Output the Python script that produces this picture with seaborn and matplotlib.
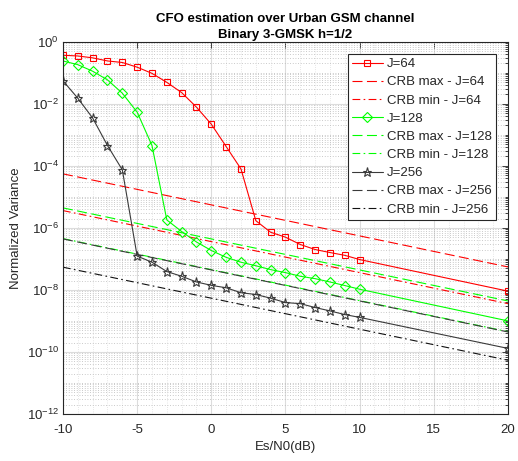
import numpy as np
import pandas as pd
import matplotlib
matplotlib.use("Agg")
import matplotlib.pyplot as plt
import matplotlib.ticker as mticker
import seaborn as sns

# Es/N0 grid (dB) of the simulated points
snr = [-10, -9, -8, -7, -6, -5, -4, -3, -2, -1, 0, 1, 2, 3, 4, 5, 6, 7, 8, 9, 10, 20]

# Simulated normalized CFO variance
var_j64 = [0.366, 0.347, 0.302, 0.240, 0.214, 0.151, 0.0955, 0.0490, 0.0229, 0.00776,
           0.00219, 4.17e-4, 7.9e-5, 1.7e-6, 7.2e-7, 5.0e-7, 2.9e-7, 2.0e-7, 1.6e-7,
           1.3e-7, 9.5e-8, 9.1e-9]
var_j128 = [0.240, 0.182, 0.112, 0.0589, 0.0219, 0.00537, 4.5e-4, 1.8e-6, 7.6e-7,
            3.5e-7, 1.86e-7, 1.12e-7, 7.8e-8, 6.0e-8, 4.5e-8, 3.6e-8, 2.75e-8, 2.3e-8,
            1.8e-8, 1.38e-8, 1.05e-8, 1.0e-9]
var_j256 = [0.055, 0.0151, 0.00347, 4.5e-4, 7.4e-5, 1.23e-7, 7.8e-8, 3.9e-8, 2.75e-8,
            1.8e-8, 1.4e-8, 1.17e-8, 8.1e-9, 7.1e-9, 5.4e-9, 3.9e-9, 3.6e-9, 2.7e-9,
            2.1e-9, 1.6e-9, 1.3e-9, 1.3e-10]

# Cramer-Rao bounds (straight lines on the log scale, end points)
snr_crb = [-10, 20]
crb_max_j64 = [5.5e-5, 5.5e-8]
crb_min_j64 = [3.6e-6, 3.6e-9]
crb_max_j128 = [4.4e-6, 4.4e-9]
crb_min_j128 = [4.5e-7, 4.5e-10]
crb_max_j256 = [4.4e-7, 4.4e-10]
crb_min_j256 = [5.4e-8, 5.4e-11]

y_ticks = [1e0, 1e-2, 1e-4, 1e-6, 1e-8, 1e-10, 1e-12]
x_ticks = [-10, -5, 0, 5, 10, 15, 20]

sns.set_style("white")
plt.rcParams["font.family"] = ["Liberation Sans", "DejaVu Sans"]
plt.rcParams["mathtext.fontset"] = "custom"
plt.rcParams["mathtext.rm"] = "Liberation Sans"
plt.rcParams["mathtext.it"] = "Liberation Sans:italic"
plt.rcParams["mathtext.bf"] = "Liberation Sans:bold"
plt.rcParams["axes.unicode_minus"] = False

TXT = "#262626"
RED = "#ff0000"
GREEN = "#00ff00"
BLACK = "#3a3a3a"
DASH = (0, (9, 4))
DASHDOT = (0, (7, 3, 1.5, 3))
FS = 9.5

fig = plt.figure(figsize=(5.18, 4.61), dpi=100)
ax = fig.add_axes([0.1216, 0.102, 0.8591, 0.8075])

common = dict(ax=ax, errorbar=None, linewidth=0.8, legend=False)

def curve(x, y, label, color, ls="-", marker=None, ms=4.5):
    df = pd.DataFrame({"x": x, "y": y})
    kws = dict(common)
    if marker is not None:
        kws.update(marker=marker, markersize=ms, markerfacecolor="none",
                   markeredgecolor=color, markeredgewidth=0.8)
    sns.lineplot(data=df, x="x", y="y", color=color, linestyle=ls, label=label, **kws)

curve(snr, var_j64, "J=64", RED, marker="s", ms=4.6)
curve(snr_crb, crb_max_j64, "CRB max - J=64", RED, ls=DASH)
curve(snr_crb, crb_min_j64, "CRB min - J=64", RED, ls=DASHDOT)
curve(snr, var_j128, "J=128", GREEN, marker="D", ms=4.6)
curve(snr_crb, crb_max_j128, "CRB max - J=128", GREEN, ls=DASH)
curve(snr_crb, crb_min_j128, "CRB min - J=128", GREEN, ls=DASHDOT)
curve(snr, var_j256, "J=256", BLACK, marker="*", ms=6.5)
curve(snr_crb, crb_max_j256, "CRB max - J=256", BLACK, ls=DASH)
curve(snr_crb, crb_min_j256, "CRB min - J=256", "#111111", ls=DASHDOT)

ax.set_yscale("log")
ax.set_xlim(-10, 20)
ax.set_ylim(1e-12, 1e0)
ax.set_xticks(x_ticks)
ax.set_yticks(y_ticks)
ax.yaxis.set_major_formatter(mticker.LogFormatterSciNotation())
ax.yaxis.set_minor_locator(mticker.LogLocator(base=10, subs=np.arange(1, 10), numticks=200))
ax.yaxis.set_minor_formatter(mticker.NullFormatter())
ax.xaxis.set_minor_locator(mticker.MultipleLocator(1))

ax.grid(True, which="major", color="#dcdcdc", linewidth=0.8, linestyle="-")
ax.grid(True, which="minor", axis="y", color="#b8b8b8", linewidth=0.6, linestyle=(0, (1, 2.2)))
ax.grid(True, which="minor", axis="x", color="#d0d0d0", linewidth=0.5, linestyle=(0, (1, 2.2)))
ax.set_axisbelow(True)

for s in ax.spines.values():
    s.set_color(TXT)
    s.set_linewidth(0.8)
ax.tick_params(axis="both", which="both", direction="in", top=True, right=True,
               colors=TXT, labelcolor=TXT, labelsize=FS, width=0.6)
ax.tick_params(axis="both", which="major", length=4)
ax.tick_params(axis="x", which="major", pad=7)
ax.tick_params(axis="y", which="major", pad=3)
ax.tick_params(axis="both", which="minor", length=2)
ax.tick_params(axis="x", which="minor", length=0)

ax.set_xlabel("Es/N0(dB)", fontsize=FS, color=TXT, labelpad=4)
ax.set_ylabel("Normalized Variance", fontsize=FS, color=TXT, labelpad=3)
ax.set_title("CFO estimation over Urban GSM channel\nBinary 3-GMSK h=1/2",
             fontsize=9.5, fontweight="bold", color="black", linespacing=1.45, pad=3)

leg = ax.legend(loc="upper right", bbox_to_anchor=(0.973, 0.967), borderaxespad=0,
                fontsize=FS, frameon=True, fancybox=False, edgecolor=TXT,
                handlelength=2.35, handletextpad=0.33, labelspacing=0.45,
                borderpad=0.3, framealpha=1)
leg.get_frame().set_linewidth(0.8)
for t in leg.get_texts():
    t.set_color(TXT)

fig.savefig("out.png", dpi=100)
